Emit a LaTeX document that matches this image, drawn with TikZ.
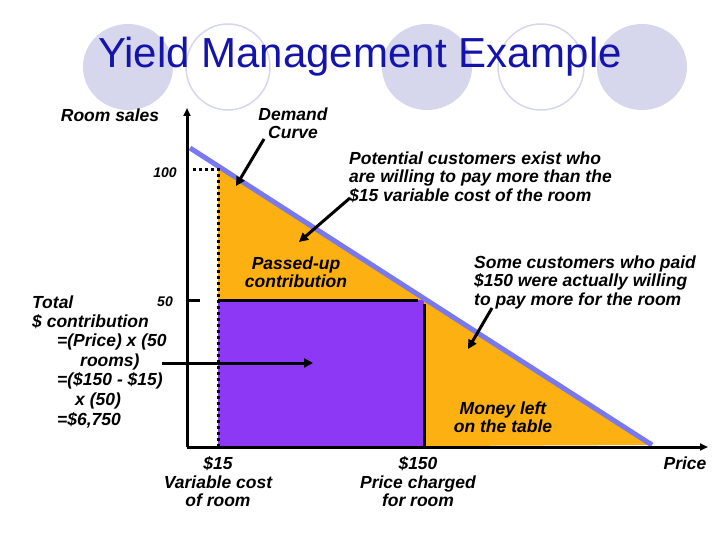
\documentclass[tikz,border=0pt]{standalone}
\usepackage{fontspec}
\setmainfont{Liberation Sans}
\usetikzlibrary{arrows.meta}
\definecolor{circ}{RGB}{214,214,236}
\definecolor{ttl}{RGB}{20,20,170}
\definecolor{orng}{RGB}{252,176,18}
\definecolor{purp}{RGB}{140,56,245}
\definecolor{dline}{RGB}{120,120,240}
\tikzset{lbl/.style={font=\fontsize{17.5}{18.5}\selectfont\bfseries\itshape, align=center, inner sep=0pt},
 arr/.style={line width=3pt,-{Triangle[length=9pt,width=9pt]}},
 axis/.style={line width=3pt,-{Triangle[length=8pt,width=7pt]}}}
\begin{document}
\begin{tikzpicture}[x=1pt,y=-1pt]
\useasboundingbox (0,0) rectangle (720,540);
\fill[circ] (128,67) ellipse (45 and 43);
\draw[circ,line width=1.5pt] (228,67) ellipse (42 and 43);
\fill[circ] (427,67) ellipse (45 and 43);
\draw[circ,line width=1.5pt] (541,67) ellipse (43 and 43);
\fill[circ] (642,67) ellipse (45 and 43);
\node[font=\fontsize{42}{44}\selectfont,text=ttl] (title) at (360,57) {Yield Management Example};
% areas
\fill[orng] (218,166) -- (652,445) -- (218,447) -- cycle;
\fill[purp] (218,300) rectangle (424,447);
\draw[line width=3pt] (218,300) -- (418,300);
\draw[line width=3pt] (424,304) -- (424,447);
\draw[dline,line width=5pt] (190,148) -- (652,445);
\draw[line width=3pt,dash pattern=on 3pt off 3pt] (218,168) -- (218,447);
\draw[line width=3pt,dash pattern=on 3pt off 3pt] (193,170) -- (218,170);
\draw[line width=3pt] (187,300) -- (200,300);
% axes
\coordinate (o) at (187,447);
\coordinate (ytop) at (187,108);
\coordinate (xend) at (708,447);
\draw[axis] (o) -- (ytop);
\draw[axis] (o) -- (xend);
% labels
\node[lbl] (rs) at (110,115) {Room sales};
\node[lbl] (dc) at (293,123) {Demand\\Curve};
\node[lbl,align=left,anchor=west] (pc) at (349,177) {Potential customers exist who\\are willing to pay more than the\\\$15 variable cost of the room};
\node[lbl,font=\fontsize{14}{15}\selectfont\bfseries\itshape] (h) at (165,173) {100};
\node[lbl,font=\fontsize{14}{15}\selectfont\bfseries\itshape] (f) at (165,302) {50};
\node[lbl] (pu) at (296,272) {Passed-up\\contribution};
\node[lbl,align=left,anchor=west] (sc) at (474,282) {Some customers who paid\\\$150 were actually willing\\to pay more for the room};
\node[lbl] (ml) at (503,417) {Money left\\on the table};
\node[lbl,anchor=west] (tot) at (32,302) {Total};
\node[lbl,align=left,anchor=north west,font=\fontsize{17.5}{19.6}\selectfont\bfseries\itshape] (tc) at (32,314) {\$ contribution\\\hspace*{25pt}=(Price) x (50\\\hspace*{48pt}rooms)\\\hspace*{25pt}=(\$150 - \$15)\\\hspace*{43pt}x (50)\\\hspace*{25pt}=\$6,750};
\node[lbl] (v15) at (218,482) {\$15\\Variable cost\\of room};
\node[lbl] (p150) at (418,482) {\$150\\Price charged\\for room};
\node[lbl] (pr) at (685,463) {Price};
% arrows
\coordinate (a1s) at (264,139); \coordinate (a1e) at (236,186);
\coordinate (a2s) at (350,198); \coordinate (a2e) at (299,242);
\coordinate (a3s) at (492,308); \coordinate (a3e) at (468,349);
\coordinate (a4s) at (162,363); \coordinate (a4e) at (313,363);
\draw[arr] (a1s) -- (a1e);
\draw[arr] (a2s) -- (a2e);
\draw[arr] (a3s) -- (a3e);
\draw[arr] (a4s) -- (a4e);
\end{tikzpicture}
\end{document}
